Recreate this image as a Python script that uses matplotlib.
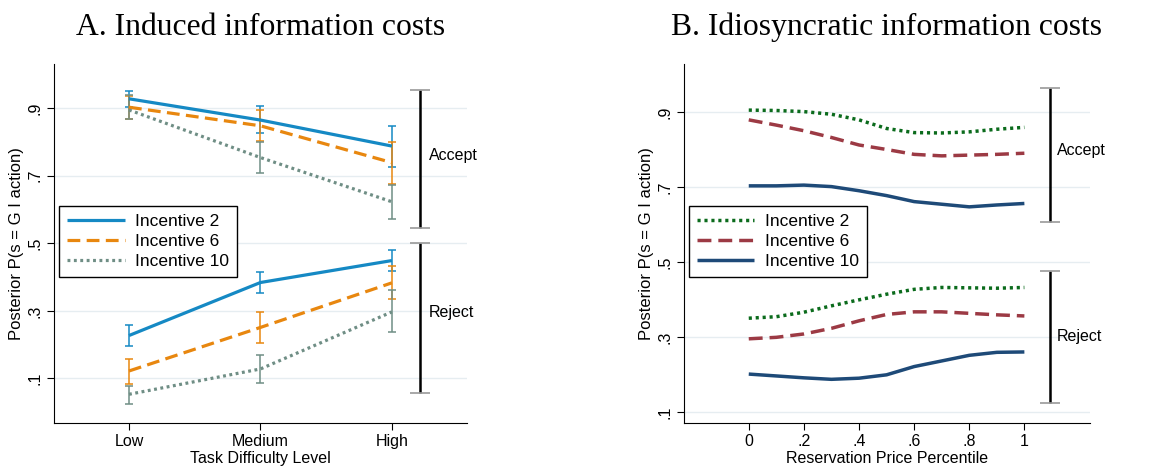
import matplotlib.pyplot as plt
from matplotlib.ticker import FuncFormatter

plt.rcParams['font.family'] = ['Liberation Sans', 'DejaVu Sans']

# ---- Panel A data ----
levels = ['Low', 'Medium', 'High']
xa = [1, 2, 3]
labels = ['Incentive 2', 'Incentive 6', 'Incentive 10']

acc_a = [[0.928, 0.865, 0.788], [0.903, 0.848, 0.739], [0.895, 0.754, 0.623]]
acc_lo = [[0.905, 0.828, 0.727], [0.868, 0.804, 0.676], [0.867, 0.707, 0.572]]
acc_hi = [[0.950, 0.906, 0.848], [0.936, 0.895, 0.799], [0.940, 0.801, 0.673]]

rej_a = [[0.227, 0.384, 0.449], [0.122, 0.251, 0.383], [0.053, 0.128, 0.297]]
rej_lo = [[0.197, 0.352, 0.419], [0.083, 0.205, 0.336], [0.025, 0.087, 0.237]]
rej_hi = [[0.258, 0.416, 0.481], [0.158, 0.298, 0.432], [0.077, 0.169, 0.361]]

# ---- Panel B data ----
pct = [0, 0.1, 0.2, 0.3, 0.4, 0.5, 0.6, 0.7, 0.8, 0.9, 1.0]
acc_b = [
    [0.906, 0.905, 0.902, 0.895, 0.880, 0.857, 0.846, 0.845, 0.848, 0.855, 0.860],
    [0.880, 0.866, 0.851, 0.833, 0.813, 0.801, 0.788, 0.784, 0.786, 0.788, 0.791],
    [0.704, 0.704, 0.706, 0.702, 0.691, 0.678, 0.662, 0.655, 0.648, 0.653, 0.657],
]
rej_b = [
    [0.351, 0.355, 0.367, 0.384, 0.400, 0.415, 0.428, 0.433, 0.432, 0.431, 0.433],
    [0.296, 0.300, 0.309, 0.324, 0.344, 0.361, 0.368, 0.368, 0.364, 0.360, 0.357],
    [0.202, 0.197, 0.192, 0.188, 0.191, 0.200, 0.222, 0.237, 0.252, 0.260, 0.261],
]

colors_a = ['#1589c4', '#e8870f', '#6f8e85']
colors_b = ['#0b6b1c', '#9c3a44', '#1e4a78']
styles_a = ['-', (0, (4, 2)), (0, (0.9, 1.1))]
styles_b = [(0, (0.9, 1.1)), (0, (4, 2)), '-']

fig = plt.figure(figsize=(11.7, 4.73), dpi=100)
axA = fig.add_axes([0.0462, 0.1057, 0.3528, 0.759])
axB = fig.add_axes([0.5846, 0.1057, 0.3470, 0.759])

yt = [0.1, 0.3, 0.5, 0.7, 0.9]
fmt = FuncFormatter(lambda v, p: ('%g' % v).lstrip('0') if v != 0 else '0')

for ax in (axA, axB):
    for s in ('top', 'right'):
        ax.spines[s].set_visible(False)
    ax.set_yticks(yt)
    ax.yaxis.set_major_formatter(fmt)
    ax.tick_params(axis='y', labelrotation=90, labelsize=11.5, length=5)
    ax.tick_params(axis='x', labelsize=11.5, length=5, pad=3)
    for lab in ax.get_yticklabels():
        lab.set_va('center')
    ax.grid(axis='y', color='#e6edf1', lw=1)
    ax.set_axisbelow(True)
    ax.set_ylabel('Posterior P(s = G I action)', fontsize=12, labelpad=2)

leg_kw = dict(loc='upper left', bbox_to_anchor=(0.013, 0.605), borderaxespad=0,
              fontsize=12.5, handlelength=3.3, handletextpad=0.6, labelspacing=0.3,
              borderpad=0.45, fancybox=False, edgecolor='black', framealpha=1)

# Panel A
for i in range(3):
    axA.plot(xa, acc_a[i], color=colors_a[i], ls=styles_a[i], lw=2.3,
             solid_capstyle='butt', dash_capstyle='butt', label=labels[i], zorder=3)
    axA.plot(xa, rej_a[i], color=colors_a[i], ls=styles_a[i], lw=2.3,
             solid_capstyle='butt', dash_capstyle='butt', zorder=3)
    for c, lo, hi in ((acc_a[i], acc_lo[i], acc_hi[i]), (rej_a[i], rej_lo[i], rej_hi[i])):
        err = [[m - l for m, l in zip(c, lo)], [h - m for m, h in zip(c, hi)]]
        axA.errorbar(xa, c, yerr=err, fmt='none', ecolor=colors_a[i], elinewidth=1.1,
                     capsize=3, capthick=1.1, zorder=2)

axA.set_xlim(0.43, 3.57)
axA.set_ylim(-0.032, 1.031)
axA.set_xticks(xa)
axA.set_xticklabels(levels)
axA.set_xlabel('Task Difficulty Level', fontsize=11.5, labelpad=1)
axA.set_title('A. Induced information costs', fontsize=22.8, family='Liberation Serif', pad=21)

# brackets
bx = 3.215
for lo, hi in ((0.544, 0.953), (0.058, 0.502)):
    axA.vlines(bx, lo, hi, color='black', lw=1.8)
    axA.hlines([lo, hi], bx - 0.075, bx + 0.075, color='#999999', lw=1.2)
axA.text(3.28, 0.76, 'Accept', fontsize=11.5, va='center')
axA.text(3.28, 0.295, 'Reject', fontsize=11.5, va='center')

legA = axA.legend(**leg_kw)
legA.get_frame().set_linewidth(1.0)

# Panel B
for i in range(3):
    axB.plot(pct, acc_b[i], color=colors_b[i], ls=styles_b[i], lw=2.5,
             solid_capstyle='butt', dash_capstyle='butt', label=labels[i])
    axB.plot(pct, rej_b[i], color=colors_b[i], ls=styles_b[i], lw=2.5,
             solid_capstyle='butt', dash_capstyle='butt')

axB.set_xlim(-0.235, 1.238)
axB.set_ylim(0.0715, 1.029)
axB.set_xticks([0, 0.2, 0.4, 0.6, 0.8, 1.0])
axB.xaxis.set_major_formatter(fmt)
axB.set_xlabel('Reservation Price Percentile', fontsize=11.5, labelpad=1)
axB.set_title('B. Idiosyncratic information costs', fontsize=22.8, family='Liberation Serif', pad=21)

bx = 1.093
for lo, hi in ((0.607, 0.966), (0.126, 0.476)):
    axB.vlines(bx, lo, hi, color='black', lw=1.8)
    axB.hlines([lo, hi], bx - 0.036, bx + 0.036, color='#999999', lw=1.2)
axB.text(1.12, 0.798, 'Accept', fontsize=11.5, va='center', clip_on=False)
axB.text(1.118, 0.303, 'Reject', fontsize=11.5, va='center', clip_on=False)

legB = axB.legend(**leg_kw)
legB.get_frame().set_linewidth(1.0)

fig.savefig('out.png', dpi=100)
